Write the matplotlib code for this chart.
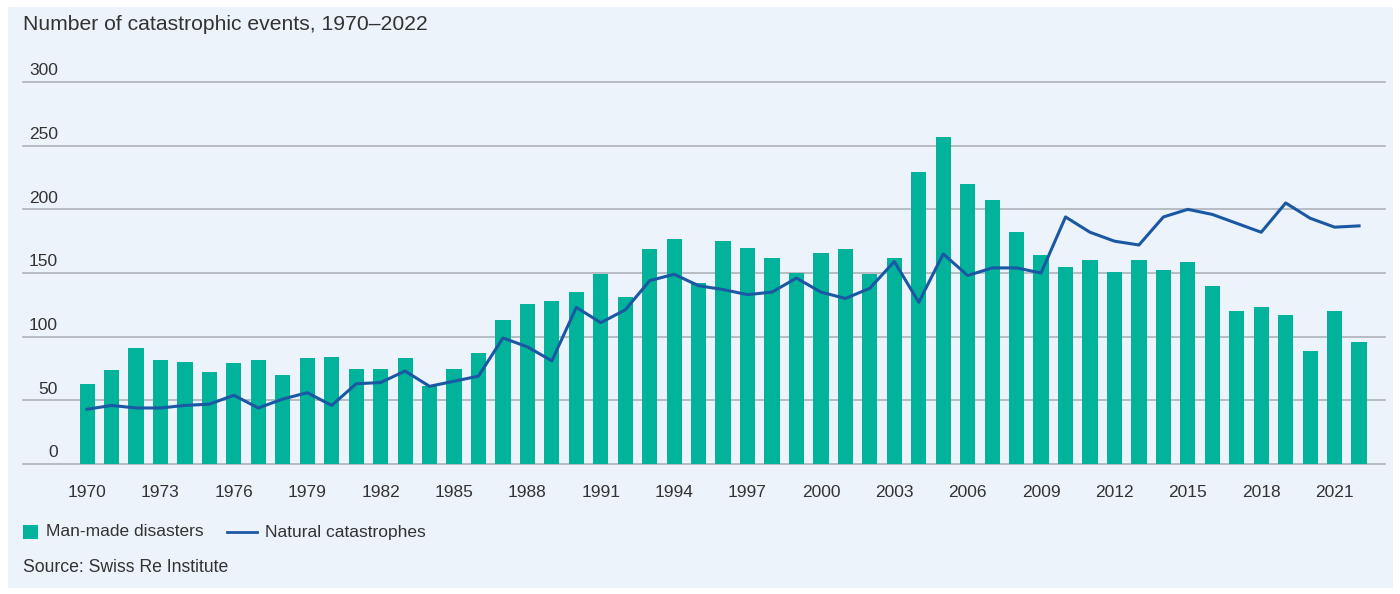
#!/usr/bin/env python3
# -*- coding:utf-8 -*-

import numpy as np
import matplotlib as mpl
mpl.use('Agg')
import matplotlib.pyplot as plt
from matplotlib.patches import Rectangle
from matplotlib.lines import Line2D


years = list(range(1970, 2023))

man_made = [63, 74, 91, 82, 80, 72, 79, 82, 70, 83, 84, 75, 75, 83, 61, 75,
            87, 113, 126, 128, 135, 149, 131, 169, 177, 142, 175, 170, 162,
            150, 166, 169, 149, 162, 229, 257, 220, 207, 182, 164, 155, 160,
            151, 160, 152, 159, 140, 120, 123, 117, 89, 120, 96]

natural = [43, 46, 44, 44, 46, 47, 54, 44, 51, 56, 46, 63, 64, 73, 61, 65,
           69, 99, 92, 81, 123, 111, 121, 144, 149, 140, 137, 133, 135, 146,
           135, 130, 138, 159, 127, 165, 148, 154, 154, 150, 194, 182, 175,
           172, 194, 200, 196, 189, 182, 205, 193, 186, 187]

y_ticks = [0, 50, 100, 150, 200, 250, 300]
x_ticks = list(range(1970, 2022, 3))

title = 'Number of catastrophic events, 1970\u20132022'
source = 'Source: Swiss Re Institute'
labels = ['Man-made disasters', 'Natural catastrophes']

teal = '#00b39a'
blue = '#1b58a4'
panel = '#edf3fb'
grid = '#a8adb3'
txt = '#333333'

W, H = 1400, 594

plt.rcParams['font.family'] = ['Liberation Sans', 'DejaVu Sans']

fig = plt.figure(figsize=(W / 100, H / 100), dpi=100, facecolor='white')
fig.patches.append(Rectangle((8 / W, 6 / H), 1385 / W, 581 / H,
                             transform=fig.transFigure, facecolor=panel,
                             edgecolor='none', zorder=-5))

ax = fig.add_axes([23 / W, 130 / H, 1362 / W, 382 / H])
ax.set_zorder(2)
ax.set_facecolor('none')
ax.bar(years, man_made, width=0.62, color=teal, zorder=2)
ax.plot(years, natural, color=blue, lw=2.2, zorder=3, solid_joinstyle='round')

ax.set_xlim(1967.38, 2023.06)
ax.set_ylim(0, 300)
for v in y_ticks:
    ax.axhline(v, color=grid, lw=1.1, zorder=1, clip_on=False)
    ax.text(35 / 1362, v + 3, str(v), transform=ax.get_yaxis_transform(),
            ha='right', va='bottom', fontsize=12.5, color=txt)
ax.set_yticks([])
ax.set_xticks(x_ticks)
ax.set_xticklabels([str(x) for x in x_ticks], fontsize=12.5, color=txt)
ax.tick_params(axis='x', length=0, pad=15)
for s in ax.spines.values():
    s.set_visible(False)

fig.text(23 / W, 1 - 24 / H, title, fontsize=15.2, color=txt,
         ha='left', va='center')

# legend drawn by hand: square swatch and a longer line swatch
fig.patches.append(Rectangle((23 / W, 1 - 539 / H), 15 / W, 14 / H,
                             transform=fig.transFigure, facecolor=teal,
                             edgecolor='none'))
fig.text(46 / W, 1 - 532 / H, labels[0], fontsize=12.5, color=txt,
         ha='left', va='center')
fig.lines.append(Line2D([227 / W, 257 / W], [1 - 532 / H, 1 - 532 / H],
                        transform=fig.transFigure, color=blue, lw=2.0))
fig.text(265 / W, 1 - 532 / H, labels[1], fontsize=12.5, color=txt,
         ha='left', va='center')

fig.text(23 / W, 1 - 568 / H, source, fontsize=12.7, color=txt,
         ha='left', va='center')

plt.savefig('out.png', dpi=100, facecolor='white')
